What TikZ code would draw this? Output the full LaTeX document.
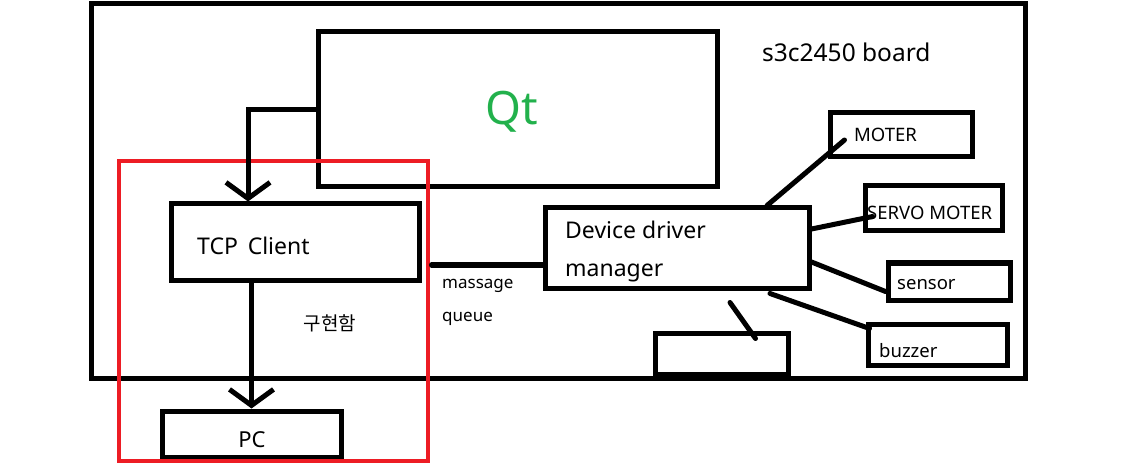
\documentclass[tikz,border=0pt]{standalone}
\usepackage{fontspec}
\setmainfont{Noto Sans}
\newfontfamily\krfont{Noto Sans CJK KR}
\usetikzlibrary{arrows.meta}
\definecolor{qtgreen}{RGB}{34,177,76}
\definecolor{markred}{RGB}{237,28,36}

\begin{document}
\begin{tikzpicture}[x=1pt, y=-1pt,
  box/.style={draw, line width=5pt, inner sep=0pt},
  txt/.style={font=\fontsize{23}{0}\selectfont, anchor=west, inner sep=0pt},
  small/.style={font=\fontsize{17}{0}\selectfont, anchor=west, inner sep=0pt},
  part/.style={font=\fontsize{18.5}{0}\selectfont, anchor=west, inner sep=0pt},
  wire/.style={line width=5pt, line cap=round},
  flow/.style={line width=5pt, -{Straight Barb[length=16pt, width=44pt, line width=5pt]}}]
\useasboundingbox (0,0) rectangle (1130,465);

\node (board)  at (558, 191)   [box, minimum width=934pt, minimum height=374pt] {};
\node (qt)     at (517.5,109.5)[box, minimum width=399pt, minimum height=155pt] {};
\node (tcp)    at (295, 242)   [box, minimum width=248pt, minimum height=76pt] {};
\node (pc)     at (251.5,434)  [box, minimum width=179pt, minimum height=46pt] {};
\node (ddm)    at (677, 248)   [box, minimum width=264pt, minimum height=80pt] {};
\node (moter)  at (901, 135)   [box, minimum width=142pt, minimum height=44pt] {};
\node (servo)  at (933.5,208.5)[box, minimum width=137pt, minimum height=45pt] {};
\node (sensor) at (949, 281.5) [box, minimum width=122pt, minimum height=37pt] {};
\node (buzzer) at (937.5,344.5)[box, minimum width=139pt, minimum height=41pt] {};
\node (extra)  at (721.5,353.5)[box, minimum width=133pt, minimum height=41pt] {};
\node (impl)   at (273.5,311)  [draw=markred, line width=4pt, inner sep=0pt, minimum width=309pt, minimum height=300pt] {};

% texts
\node (boardlbl) at (762, 52)  [txt, font=\fontsize{24.5}{0}\selectfont] {s3c2450 board};
\node (qtlbl)    at (512, 112) [font=\fontsize{46}{0}\selectfont, text=qtgreen, inner sep=0pt] {Qt};
\node (tcplbl)   at (197, 246) [txt] {TCP\,\ Client};
\node (pclbl)    at (252, 440) [font=\fontsize{22}{0}\selectfont, inner sep=0pt] {PC};
\node (impllbl)  at (330, 323) [font=\fontsize{19}{0}\selectfont\krfont, inner sep=0pt] {구현함};
\node (ddmlbl1)  at (565, 230) [txt] {Device driver};
\node (ddmlbl2)  at (565, 273) [txt] {manager};
\node (msglbl1)  at (442, 286) [small] {massage};
\node (msglbl2)  at (442, 319) [small] {queue};
\node (motlbl)   at (854, 135) [part] {MOTER};
\node (srvlbl)   at (867, 213) [part] {SERVO MOTER};
\node (snslbl)   at (897, 285) [part] {sensor};
\node (bzlbl)    at (879, 351) [part] {buzzer};

% connectors
\draw[flow] (qt.west) -| ([xshift=-47pt]tcp.north);
\draw[flow] (pc.north |- tcp.south) -- (pc.north);
\draw[wire] ([xshift=10pt,yshift=-23pt]tcp.east) -- ([yshift=-17pt]ddm.west);
\draw[wire] ([xshift=90pt]ddm.north) -- ([xshift=17pt,yshift=-5pt]moter.west);
\draw[wire] ([yshift=19pt]ddm.east) -- ([xshift=10pt,yshift=-8pt]servo.west);
\draw[wire] ([yshift=-14pt]ddm.east) -- ([yshift=-10pt]sensor.west);
\draw[wire] ([xshift=93pt,yshift=-3pt]ddm.south) -- ([xshift=4pt,yshift=16pt]buzzer.west);
\draw[wire] ([xshift=53pt,yshift=-12pt]ddm.south) -- ([xshift=34pt,yshift=-8pt]extra.north);
\end{tikzpicture}
\end{document}
